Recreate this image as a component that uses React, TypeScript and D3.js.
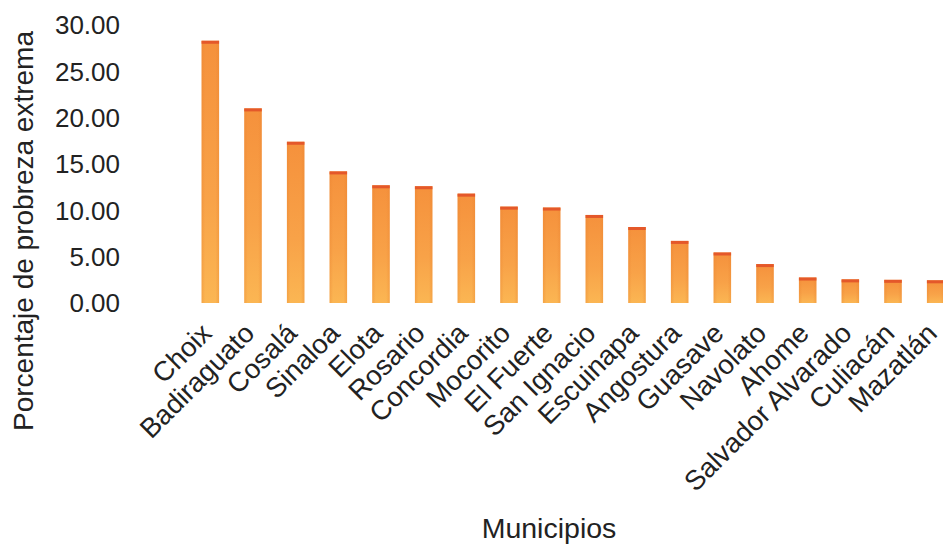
import React from "react";
import * as d3 from "d3";

const municipios = [
  "Choix", "Badiraguato", "Cosalá", "Sinaloa", "Elota", "Rosario", "Concordia",
  "Mocorito", "El Fuerte", "San Ignacio", "Escuinapa", "Angostura", "Guasave",
  "Navolato", "Ahome", "Salvador Alvarado", "Culiacán", "Mazatlán",
];
const pobrezaExtrema = [
  28.3, 21.0, 17.4, 14.2, 12.7, 12.6, 11.8, 10.4, 10.3, 9.5, 8.2, 6.7, 5.45,
  4.2, 2.75, 2.55, 2.5, 2.45,
];
const yTicks = [0, 5, 10, 15, 20, 25, 30];

const W = 943;
const H = 545;
const FONT = "'Liberation Sans', Arial, Helvetica, sans-serif";

export default function App() {
  const x = d3
    .scaleBand<string>()
    .domain(municipios)
    .range([189, 957])
    .paddingInner(0.59)
    .paddingOuter(0.295);
  const y = d3.scaleLinear().domain([0, 30]).range([303, 25]);
  const fmt = d3.format(".2f");
  const bw = x.bandwidth();

  return (
    <svg
      width={W}
      height={H}
      style={{ position: "absolute", left: 0, top: 0, background: "#fff" }}
    >
      <defs>
        <linearGradient id="barV" x1="0" y1="0" x2="0" y2="1">
          <stop offset="0%" stopColor="#f5913c" />
          <stop offset="60%" stopColor="#f8a248" />
          <stop offset="100%" stopColor="#fbb653" />
        </linearGradient>
        <linearGradient id="barH" x1="0" y1="0" x2="1" y2="0">
          <stop offset="0%" stopColor="#e8812e" stopOpacity="0.35" />
          <stop offset="20%" stopColor="#e8812e" stopOpacity="0" />
          <stop offset="80%" stopColor="#e8812e" stopOpacity="0" />
          <stop offset="100%" stopColor="#e8812e" stopOpacity="0.35" />
        </linearGradient>
      </defs>

      {/* bars */}
      {municipios.map((m, i) => {
        const x0 = x(m) as number;
        const top = y(pobrezaExtrema[i]);
        const h = y(0) - top;
        return (
          <g key={m}>
            <rect x={x0} y={top} width={bw} height={h} fill="url(#barV)" />
            <rect x={x0} y={top} width={bw} height={h} fill="url(#barH)" />
            <rect x={x0} y={top} width={bw} height={3} fill="#e4582a" />
          </g>
        );
      })}

      {/* y tick labels */}
      {yTicks.map((t) => (
        <text
          key={t}
          x={120}
          y={y(t)}
          dy="0.36em"
          textAnchor="end"
          fontFamily={FONT}
          fontSize={26}
          fill="#222"
        >
          {fmt(t)}
        </text>
      ))}

      {/* x labels */}
      {municipios.map((m) => {
        const cx = (x(m) as number) + bw / 2 + 3;
        const cy = 335;
        return (
          <text
            key={m}
            x={cx}
            y={cy}
            textAnchor="end"
            transform={`rotate(-45 ${cx} ${cy})`}
            fontFamily={FONT}
            fontSize={27.5}
            fill="#222"
          >
            {m}
          </text>
        );
      })}

      {/* axis titles */}
      <text
        transform={`translate(33, 231) rotate(-90)`}
        textAnchor="middle"
        fontFamily={FONT}
        fontSize={28}
        fill="#222"
      >
        Porcentaje de probreza extrema
      </text>
      <text
        x={549}
        y={538}
        textAnchor="middle"
        fontFamily={FONT}
        fontSize={28.5}
        fill="#222"
      >
        Municipios
      </text>
    </svg>
  );
}
